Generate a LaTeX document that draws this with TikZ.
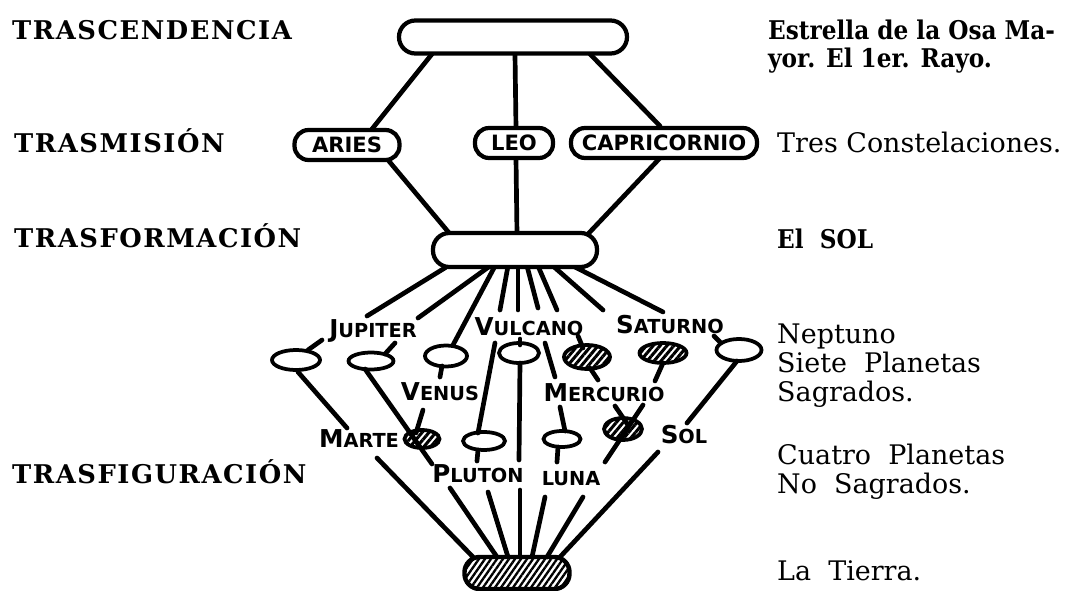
\documentclass[tikz,border=0pt]{standalone}
\usepackage{fontspec}
\setmainfont{DejaVu Serif}
\newfontfamily\levelfam{DejaVu Serif}[LetterSpace=6]
\newfontfamily\nbfam{DejaVu Serif}[FakeStretch=0.9]
\newfontfamily\handfam{DejaVu Sans}
\usetikzlibrary{shapes.geometric,patterns.meta}
\newcommand\levelfont{\levelfam\bfseries\fontsize{22}{24}\selectfont}
\newcommand\notefont{\fontsize{23}{25}\selectfont}
\newcommand\notebf{\nbfam\bfseries\fontsize{22}{24}\selectfont}
\newcommand\handfont{\handfam\bfseries\fontsize{16.5}{17}\selectfont}
\newcommand\constfont{\handfam\bfseries\fontsize{18}{18}\selectfont}
\newcommand\hcap[2]{{\fontsize{21}{21}\selectfont #1}#2}
\begin{document}
\begin{tikzpicture}[x=0.03cm,y=-0.03cm,
  pill/.style={draw, line width=3.6pt, rounded corners=14pt, inner sep=0pt, fill=white},
  cpill/.style={pill, rounded corners=12pt, minimum height=0.9cm, font=\constfont},
  planet/.style={draw, ellipse, line width=3.2pt, inner sep=0pt},
  hatched/.style={planet, pattern={Lines[angle=50,distance=4.5pt,line width=2.6pt]}},
  ray/.style={line width=4pt, line cap=round},
  level/.style={anchor=base west, inner sep=0pt, font=\levelfont},
  note/.style={anchor=base west, inner sep=0pt, font=\notefont},
  notebold/.style={anchor=base west, inner sep=0pt, font=\notebf},
  hw/.style={inner sep=0pt, font=\handfont}]
\useasboundingbox (0,0) rectangle (1078,591);

% ---------- left level labels ----------
\node[level] (l1) at (12,40) {TRASCENDENCIA};
\node[level] (l2) at (14,152) {TRASMISIÓN};
\node[level] (l3) at (14,247) {TRASFORMACIÓN};
\node[level] (l4) at (12,483) {TRASFIGURACIÓN};

% ---------- right notes ----------
\node[notebold] (n1) at (768,40) {Estrella de la Osa Ma-};
\node[notebold] (n2) at (768,68) {yor. El 1er. Rayo.};
\node[note] (n3) at (777,152) {Tres Constelaciones.};
\node[notebold] (n4) at (777,248) {El\ \ SOL};
\node[note] (n5) at (777,343) {Neptuno};
\node[note] (n6) at (777,372) {Siete\ \ Planetas};
\node[note] (n7) at (777,401) {Sagrados.};
\node[note] (n8) at (777,464) {Cuatro\ \ Planetas};
\node[note] (n9) at (777,493) {No\ \ Sagrados.};
\node[note] (n10) at (777,580) {La\ \ Tierra.};

% ---------- connectors ----------
% top pill to constellations
\draw[ray] (432,54) coordinate (t1a) -- (372,129) coordinate (t1b);
\draw[ray] (515,54) coordinate (t2a) -- (516,128) coordinate (t2b);
\draw[ray] (590,54) coordinate (t3a) -- (660,126) coordinate (t3b);
% constellations to sun
\draw[ray] (388,160) coordinate (m1a) -- (450,234) coordinate (m1b);
\draw[ray] (516,158) coordinate (m2a) -- (517,234) coordinate (m2b);
\draw[ray] (660,158) coordinate (m3a) -- (588,234) coordinate (m3b);
% rays from the sun
\draw[ray] (448,266) coordinate (ra1) -- (367,316) coordinate (ra2);
\draw[ray] (490,266) coordinate (rb1) -- (418,318) coordinate (rb2);
\draw[ray] (495,266) coordinate (rc1) -- (453,345) coordinate (rc2);
\draw[ray] (508,266) coordinate (rd1) -- (500,310) coordinate (rd2);
\draw[ray] (518,266) coordinate (re1) -- (518,310) coordinate (re2);
\draw[ray] (527,266) coordinate (rf1) -- (538,308) coordinate (rf2);
\draw[ray] (538,266) coordinate (rg1) -- (557,310) coordinate (rg2);
\draw[ray] (553,266) coordinate (rh1) -- (603,310) coordinate (rh2);
\draw[ray] (573,266) coordinate (ri1) -- (663,312) coordinate (ri2);
% stubs above the seven planets
\draw[ray] (322,340) coordinate (sa1) -- (308,350) coordinate (sa2);
\draw[ray] (395,343) coordinate (sb1) -- (385,354) coordinate (sb2);
\draw[ray] (495,343) coordinate (sd1) -- (478,433) coordinate (sd2);
\draw[ray] (520,339) coordinate (se1) -- (520,345) coordinate (se2);
\draw[ray] (545,343) coordinate (sf1) -- (555,377) coordinate (sf2);
\draw[ray] (578,336) coordinate (sg1) -- (583,348) coordinate (sg2);
\draw[ray] (714,336) coordinate (si1) -- (720,342) coordinate (si2);
% below the seven planets
\draw[ray] (298,372) coordinate (p1a) -- (347,428) coordinate (p1b);
\draw[ray] (365,369) coordinate (p2a) -- (432,464) coordinate (p2b);
\draw[ray] (442,366) coordinate (p3a) -- (440,377) coordinate (p3b);
\draw[ray] (520,363) coordinate (p4a) -- (519,460) coordinate (p4b);
\draw[ray] (590,368) coordinate (p5a) -- (598,380) coordinate (p5b);
\draw[ray] (663,363) coordinate (p6a) -- (655,381) coordinate (p6b);
\draw[ray] (737,361) coordinate (p7a) -- (687,423) coordinate (p7b);
% around the four planets
\draw[ray] (423,410) coordinate (q1a) -- (416,433) coordinate (q1b);
\draw[ray] (560,407) coordinate (q2a) -- (565,431) coordinate (q2b);
\draw[ray] (478,450) coordinate (q3a) -- (477,461) coordinate (q3b);
\draw[ray] (558,447) coordinate (q4a) -- (557,462) coordinate (q4b);
\draw[ray] (615,406) coordinate (q5a) -- (628,425) coordinate (q5b);
\draw[ray] (643,405) coordinate (q6a) -- (605,462) coordinate (q6b);
% to the earth
\draw[ray] (377,458) coordinate (e1a) -- (473,557) coordinate (e1b);
\draw[ray] (450,488) coordinate (e2a) -- (497,557) coordinate (e2b);
\draw[ray] (488,492) coordinate (e3a) -- (508,557) coordinate (e3b);
\draw[ray] (520,490) coordinate (e4a) -- (520,557) coordinate (e4b);
\draw[ray] (545,497) coordinate (e5a) -- (532,557) coordinate (e5b);
\draw[ray] (583,497) coordinate (e6a) -- (547,557) coordinate (e6b);
\draw[ray] (658,452) coordinate (e7a) -- (560,557) coordinate (e7b);

% ---------- pills ----------
\node[pill, minimum width=6.84cm, minimum height=0.99cm] (osa) at (513,37) {};
\node[cpill, minimum width=3.15cm] (aries) at (347,145) {ARIES};
\node[cpill, minimum width=2.34cm] (leo) at (514,143) {LEO};
\node[cpill, minimum width=5.58cm] (capri) at (664,143) {CAPRICORNIO};
\node[pill, minimum width=4.92cm, minimum height=1.02cm] (sol) at (515,250) {};

% ---------- seven planets ----------
\node[planet, minimum width=1.44cm, minimum height=0.6cm] (pl1) at (296,360) {};
\node[planet, minimum width=1.35cm, minimum height=0.51cm] (pl2) at (371,361) {};
\node[planet, minimum width=1.26cm, minimum height=0.63cm] (pl3) at (446,356) {};
\node[planet, minimum width=1.2cm, minimum height=0.6cm] (pl4) at (519,353) {};
\node[hatched, minimum width=1.38cm, minimum height=0.72cm] (pl5) at (587,357) {};
\node[hatched, minimum width=1.41cm, minimum height=0.6cm] (pl6) at (663,353) {};
\node[planet, minimum width=1.35cm, minimum height=0.66cm] (pl7) at (739,350) {};

% ---------- four planets ----------
\node[hatched, minimum width=1.05cm, minimum height=0.54cm] (marte) at (422,439) {};
\node[planet, minimum width=1.26cm, minimum height=0.54cm] (pluton) at (484,441) {};
\node[planet, minimum width=1.11cm, minimum height=0.48cm] (luna) at (562,439) {};
\node[hatched, minimum width=1.14cm, minimum height=0.66cm] (solp) at (623,429) {};

% ---------- earth ----------
\node[draw, line width=3.8pt, rounded corners=13pt, minimum width=3.15cm, minimum height=0.96cm,
  pattern={Lines[angle=55,distance=4.2pt,line width=2pt]}] (tierra) at (517,573) {};

% ---------- hand-written labels ----------
\node[hw] (jupiter) at (373,331) {\hcap{J}{UPITER}};
\node[hw] (vulcano) at (529,327) {\hcap{V}{ULCANO}};
\node[hw] (saturno) at (670,325) {\hcap{S}{ATURNO}};
\node[hw] (venus) at (440,392) {\hcap{V}{ENUS}};
\node[hw] (mercurio) at (604,393) {\hcap{M}{ERCURIO}};
\node[hw] (marteL) at (359,439) {\hcap{M}{ARTE}};
\node[hw] (solL) at (684,435) {\hcap{S}{OL}};
\node[hw] (plutonL) at (478,474) {\hcap{P}{LUTON}};
\node[hw] (lunaL) at (571,479) {LUNA};
\end{tikzpicture}
\end{document}
